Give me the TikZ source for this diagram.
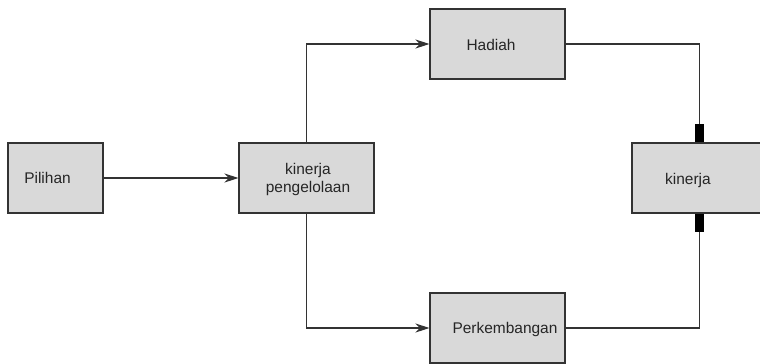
\documentclass[tikz,border=0pt]{standalone}
\usepackage{fontspec}
\setmainfont{Liberation Sans}
\usetikzlibrary{arrows.meta}
\definecolor{boxgray}{HTML}{D9D9D9}
\definecolor{linegray}{HTML}{333333}

\begin{document}
\begin{tikzpicture}[x=0.025cm, y=-0.025cm,
    box/.style={draw=linegray, fill=boxgray, line width=0.8pt,
      minimum width=3.375cm, minimum height=1.75cm, inner sep=0pt},
    txt/.style={font=\fontsize{11}{12.8}\selectfont, text=black!85, align=center},
    link/.style={draw=linegray, line width=0.8pt},
    arr/.style={link, -{Stealth[length=10pt, width=6.5pt]}},
    bar/.style={link, -{Rectangle[length=13pt, width=6pt, color=black]}}]
    \useasboundingbox (0,0) rectangle (760,363);
    \clip (0,0) rectangle (760,363);

    % Boxes
    \node[box, minimum width=2.375cm] (pilihan) at (55.5,178) {};
    \node[box] (kp) at (306.5,178) {};
    \node[box] (hadiah) at (497.5,44) {};
    \node[box] (perk) at (497.5,328) {};
    \node[box] (kinerja) at (699.5,178) {};

    % Texts
    \node[txt] (tpilihan) at (47.5,178) {Pilihan};
    \node[txt] (tkp) at (308,179) {kinerja\\pengelolaan};
    \node[txt] (thadiah) at (491,45) {Hadiah};
    \node[txt] (tperk) at (505,329) {Perkembangan};
    \node[txt] (tkinerja) at (688,180) {kinerja};

    % Connectors
    \draw[arr] (pilihan) -- (kp);
    \draw[arr] (kp.north) |- (hadiah.west);
    \draw[arr] (kp.south) |- (perk.west);
    \draw[bar] (hadiah.east) -| (kinerja.north);
    \draw[bar] (perk.east) -| (kinerja.south);
\end{tikzpicture}
\end{document}
